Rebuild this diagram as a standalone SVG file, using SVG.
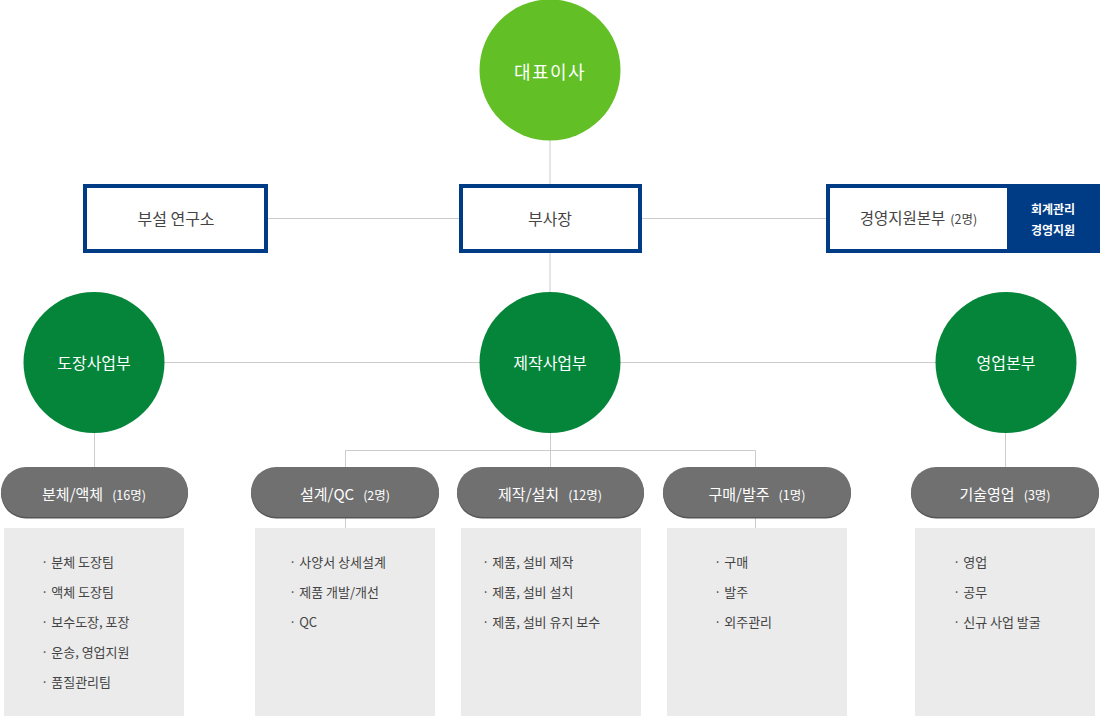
<svg xmlns="http://www.w3.org/2000/svg" width="1100" height="716" viewBox="0 0 1100 716">
<style>
text{font-family:"Noto Sans CJK KR","Noto Sans",sans-serif}
.conn line,.conn path{stroke:#cccccc;stroke-width:1;fill:none}
.ceo{fill:#62bf26}
.div{fill:#05853a}
.ctxt{fill:#ffffff;font-size:16px;text-anchor:middle}
.box{fill:#ffffff;stroke:#003b85;stroke-width:4}
.btxt{fill:#444444;font-size:16px;text-anchor:middle}
.pill{fill:#707070}
.pshadow{fill:#555555}
.ptxt{fill:#ffffff;font-size:15px;text-anchor:middle}
.cnt{font-size:12.5px}
.list{fill:#ebebeb}
.ltxt{fill:#444444;font-size:13px}
</style>
<g class="conn" id="connectors">
<line x1="550" y1="140" x2="550" y2="184"/>
<line x1="268" y1="218.5" x2="459" y2="218.5"/>
<line x1="641" y1="218.5" x2="826" y2="218.5"/>
<line x1="550" y1="252" x2="550" y2="292"/>
<line x1="164" y1="362.5" x2="480" y2="362.5"/>
<line x1="620" y1="362.5" x2="936" y2="362.5"/>
<line x1="94.5" y1="432" x2="94.5" y2="467"/>
<line x1="1005.5" y1="432" x2="1005.5" y2="467"/>
<line x1="550.5" y1="432" x2="550.5" y2="467"/>
<path d="M345.5 467 V450.5 H755.5 V467"/>
<line x1="345.5" y1="518" x2="345.5" y2="528"/>
<line x1="755.5" y1="518" x2="755.5" y2="528"/>
</g>
<g id="ceo">
<circle class="ceo" cx="550" cy="70" r="70.5"/>
<text class="ctxt" x="550" y="78.5" style="font-size:18px;letter-spacing:1.5px">대표이사</text>
</g>
<g id="lab">
<rect class="box" x="85" y="186" width="181" height="65"/>
<text class="btxt" x="176" y="224.5">부설 연구소</text>
</g>
<g id="vp">
<rect class="box" x="461" y="186" width="179" height="65"/>
<text class="btxt" x="550" y="224.5">부사장</text>
</g>
<g id="mgmt">
<rect x="826" y="184" width="274" height="69" fill="#003b85"/>
<rect x="830" y="188" width="177" height="61" fill="#ffffff"/>
<text class="btxt" x="918.5" y="224" style="font-size:15.5px">경영지원본부<tspan class="cnt" dx="5">(2명)</tspan></text>
<text x="1053" y="214" fill="#ffffff" font-size="12" font-weight="bold" text-anchor="middle">회계관리</text>
<text x="1053" y="235" fill="#ffffff" font-size="12" font-weight="bold" text-anchor="middle">경영지원</text>
</g>
<g id="painting">
<circle class="div" cx="94" cy="362.5" r="70.5"/>
<text class="ctxt" x="94" y="368.5">도장사업부</text>
</g>
<g id="manufacturing">
<circle class="div" cx="550" cy="362.5" r="70.5"/>
<text class="ctxt" x="550" y="368.5">제작사업부</text>
</g>
<g id="sales">
<circle class="div" cx="1006" cy="362.5" r="70.5"/>
<text class="ctxt" x="1006" y="368.5">영업본부</text>
</g>
<g id="powder">
<rect class="pshadow" x="1" y="468.5" width="187" height="50" rx="25"/>
<rect class="pill" x="1" y="467" width="187" height="50" rx="25"/>
<text class="ptxt" x="94" y="500">분체/액체<tspan class="cnt" dx="9">(16명)</tspan></text>
<rect class="list" x="4" y="528" width="180" height="188"/>
<text class="ltxt" x="41" y="567">· 분체 도장팀</text>
<text class="ltxt" x="41" y="597">· 액체 도장팀</text>
<text class="ltxt" x="41" y="627">· 보수도장, 포장</text>
<text class="ltxt" x="41" y="657">· 운송, 영업지원</text>
<text class="ltxt" x="41" y="687">· 품질관리팀</text>
</g>
<g id="design">
<rect class="pshadow" x="251" y="468.5" width="188" height="50" rx="25"/>
<rect class="pill" x="251" y="467" width="188" height="50" rx="25"/>
<text class="ptxt" x="345" y="500">설계/QC<tspan class="cnt" dx="9">(2명)</tspan></text>
<rect class="list" x="255" y="528" width="180" height="188"/>
<text class="ltxt" x="289" y="567">· 사양서 상세설계</text>
<text class="ltxt" x="289" y="597">· 제품 개발/개선</text>
<text class="ltxt" x="289" y="627">· QC</text>
</g>
<g id="fabrication">
<rect class="pshadow" x="457" y="468.5" width="187" height="50" rx="25"/>
<rect class="pill" x="457" y="467" width="187" height="50" rx="25"/>
<text class="ptxt" x="550" y="500">제작/설치<tspan class="cnt" dx="9">(12명)</tspan></text>
<rect class="list" x="461" y="528" width="180" height="188"/>
<text class="ltxt" x="482" y="567">· 제품, 설비 제작</text>
<text class="ltxt" x="482" y="597">· 제품, 설비 설치</text>
<text class="ltxt" x="482" y="627">· 제품, 설비 유지 보수</text>
</g>
<g id="purchase">
<rect class="pshadow" x="663" y="468.5" width="188" height="50" rx="25"/>
<rect class="pill" x="663" y="467" width="188" height="50" rx="25"/>
<text class="ptxt" x="757" y="500">구매/발주<tspan class="cnt" dx="9">(1명)</tspan></text>
<rect class="list" x="667" y="528" width="180" height="188"/>
<text class="ltxt" x="714" y="567">· 구매</text>
<text class="ltxt" x="714" y="597">· 발주</text>
<text class="ltxt" x="714" y="627">· 외주관리</text>
</g>
<g id="techsales">
<rect class="pshadow" x="911" y="468.5" width="188" height="50" rx="25"/>
<rect class="pill" x="911" y="467" width="188" height="50" rx="25"/>
<text class="ptxt" x="1005" y="500">기술영업<tspan class="cnt" dx="9">(3명)</tspan></text>
<rect class="list" x="915" y="528" width="180" height="188"/>
<text class="ltxt" x="953" y="567">· 영업</text>
<text class="ltxt" x="953" y="597">· 공무</text>
<text class="ltxt" x="953" y="627">· 신규 사업 발굴</text>
</g>
</svg>
